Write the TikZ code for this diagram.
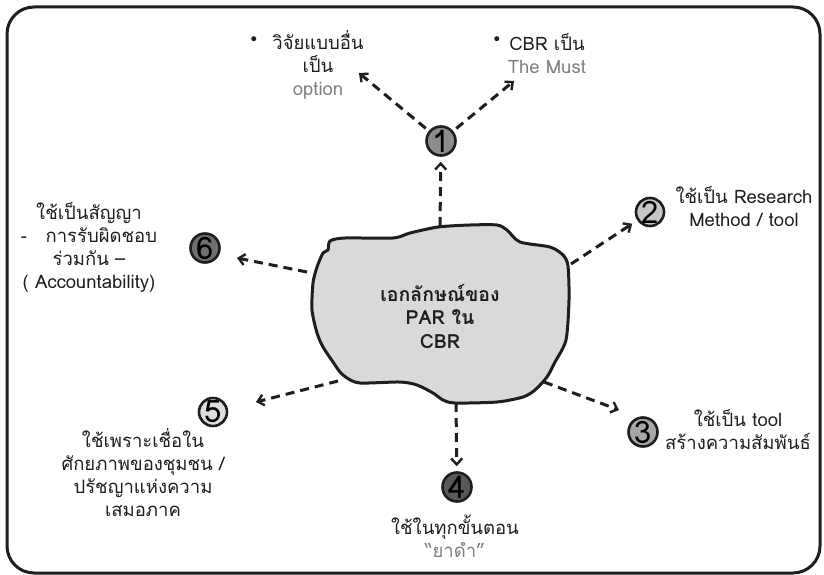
\documentclass[tikz,border=0pt]{standalone}
\usepackage{fontspec}
\setmainfont[Script=Thai]{Loma}
\newfontfamily\symfont{DejaVu Sans}
\usetikzlibrary{arrows.meta}
\definecolor{ink}{HTML}{1E1E1E}
\definecolor{softgray}{HTML}{7F7F7F}
\definecolor{blobfill}{HTML}{D9D9DB}
\tikzset{
  frame/.style={line width=3pt, draw=ink, rounded corners=27pt},
  blob/.style={line width=3pt, draw=ink, fill=blobfill, line join=round},
  numc/.style={circle, draw=ink, line width=2.6pt, minimum size=29pt, inner sep=0pt,
    font=\fontsize{31}{31}\selectfont, text=black},
  dasharrow/.style={line width=3pt, draw=ink, dash pattern=on 9pt off 6pt,
    -{Straight Barb[length=6pt, width=11pt, line width=2.4pt]}},
  label/.style={align=center, text=ink, font=\fontsize{18.5}{23}\selectfont, inner sep=0pt},
  core/.style={align=center, text=ink, font=\bfseries\fontsize{19.5}{23.5}\selectfont, inner sep=0pt},
  bullet/.style={text=ink, font=\symfont\fontsize{17}{17}\selectfont, inner sep=0pt}
}
\begin{document}
\begin{tikzpicture}[x=1pt, y=-1pt]
\useasboundingbox (0,0) rectangle (824,575);
\fill[white] (0,0) rectangle (824,575);

% outer frame
\draw[frame] (7,7) rectangle (820,573);

% central blob
\draw[blob] plot[smooth cycle, tension=0.45] coordinates {
  (330,241) (345,238) (393,238) (410,233) (438,227) (470,225) (497,225)
  (507,230) (520,242) (550,247) (563,255) (568,266) (569,300) (566,340)
  (555,362) (547,377) (535,390) (523,397) (497,402) (455,403) (443,400)
  (433,393) (417,385) (400,382) (360,383) (347,378) (340,372) (333,362)
  (323,347) (317,333) (312,310) (313,283) (317,267) (323,253) (328,250)};
\node[core] (coretext) at (440,316) {เอกลักษณ์ของ\\PAR ใน\\CBR};

% points on the blob edge where the arrows leave
\coordinate (bTop) at (440,226);
\coordinate (bRight) at (571,264);
\coordinate (bLowRight) at (544,382);
\coordinate (bBottom) at (456,403);
\coordinate (bLowLeft) at (338,381);
\coordinate (bLeft) at (307,272);

% numbered circles
\node[numc, fill=black!45] (n1) at (441,141) {1};
\node[numc, fill=black!22, minimum size=27pt] (n2) at (650,212) {2};
\node[numc, fill=black!35] (n3) at (643,432) {3};
\node[numc, fill=black!65] (n4) at (457,487) {4};
\node[numc, fill=black!13, minimum size=28pt] (n5) at (213,412) {5};
\node[numc, fill=black!57] (n6) at (205,248) {6};

% arrow tips that stop short of a target
\coordinate (tipA) at (359,73);
\coordinate (tipB) at (514,81);
\coordinate (tip3) at (619,410);
\coordinate (tip5) at (256,402);
\coordinate (tip6) at (237,258);

% connectors
\draw[dasharrow, shorten >=5pt] (bTop) -- (n1);
\draw[dasharrow, shorten <=4pt] (n1) -- (tipA);
\draw[dasharrow, shorten <=4pt] (n1) -- (tipB);
\draw[dasharrow, shorten >=6pt] (bRight) -- (n2);
\draw[dasharrow] (bLowRight) -- (tip3);
\draw[dasharrow, shorten >=5pt] (bBottom) -- (n4);
\draw[dasharrow] (bLowLeft) -- (tip5);
\draw[dasharrow] (bLeft) -- (tip6);

% labels
\node[bullet] (bu1) at (254,41) {•};
\node[label] (t1) at (318,65) {วิจัยแบบอื่น\\เป็น\\{\color{softgray}option}};
\node[bullet] (bu2) at (497,41) {•};
\node[label] (t1b) at (547,53) {CBR เป็น\\{\color{softgray}The Must}};
\node[label] (t2) at (744,206) {ใช้เป็น Research\\Method / tool};
\node[label] (t3) at (738,429) {ใช้เป็น tool\\สร้างความสัมพันธ์};
\node[label] (t4) at (455,536) {ใช้ในทุกขั้นตอน\\{\color{softgray}“ยาดำ”}};
\node[label] (t5) at (143,473) {ใช้เพราะเชื่อใน\\ศักยภาพของชุมชน /\\ปรัชญาแห่งความ\\เสมอภาค};
\node[label] (t6) at (89,247) {ใช้เป็นสัญญา\\-\quad การรับผิดชอบ\\ร่วมกัน –\\( Accountability)};
\end{tikzpicture}
\end{document}
